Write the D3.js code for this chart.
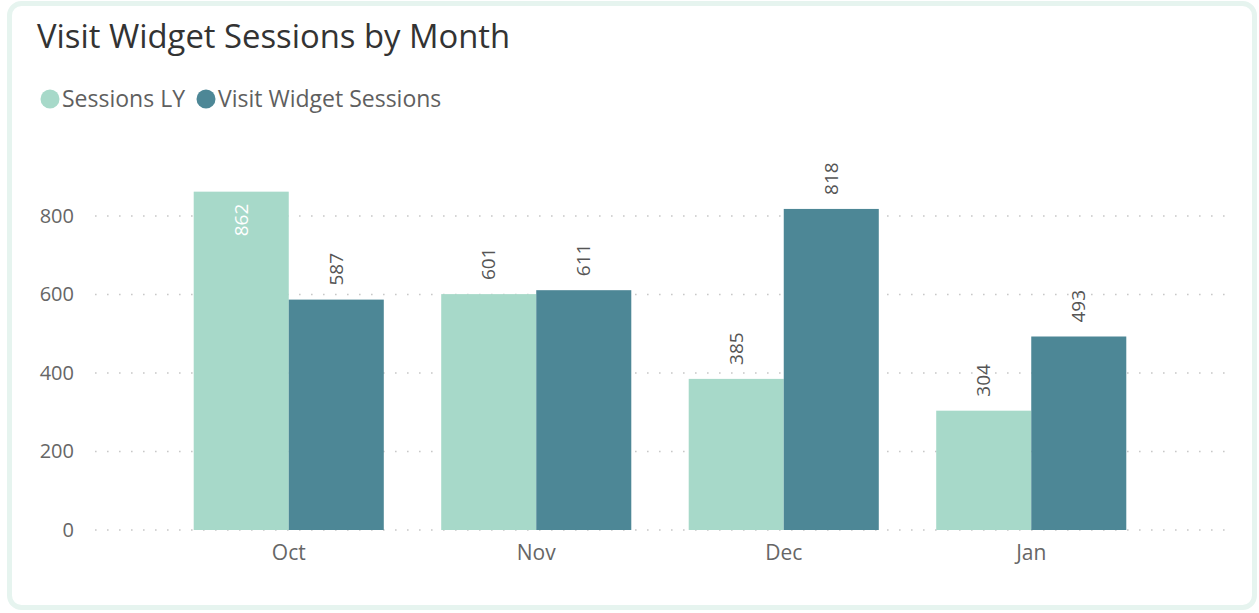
<!DOCTYPE html>
<html>
<head>
<meta charset="utf-8">
<script src="https://cdn.jsdelivr.net/npm/d3@7"></script>
<style>
  body { margin: 0; background: #fff; }
  text { font-family: "Segoe UI", "Open Sans", sans-serif; }
</style>
</head>
<body>
<svg id="chart" width="1259" height="613"></svg>
<script>
// data
var months = ["Oct", "Nov", "Dec", "Jan"];
var sessionsLY = [862, 601, 385, 304];
var widgetSessions = [587, 611, 818, 493];
var yTicks = [0, 200, 400, 600, 800];
var seriesNames = ["Sessions LY", "Visit Widget Sessions"];
var seriesColors = ["#a7d9c9", "#4d8796"];

var svg = d3.select("#chart");

// card
svg.append("rect")
  .attr("x", 9.5).attr("y", 3.5)
  .attr("width", 1245).attr("height", 604)
  .attr("rx", 12)
  .attr("fill", "#fff")
  .attr("stroke", "#e6f4ef")
  .attr("stroke-width", 5);

svg.append("text")
  .attr("x", 37).attr("y", 48)
  .attr("font-size", 32.8)
  .attr("fill", "#333")
  .text("Visit Widget Sessions by Month");

// legend
var lx = 50;
seriesNames.forEach(function (name, i) {
  svg.append("circle")
    .attr("cx", lx).attr("cy", 99).attr("r", 9.5)
    .attr("fill", seriesColors[i]);
  var t = svg.append("text")
    .attr("x", lx + 12).attr("y", 99)
    .attr("dy", "0.35em")
    .attr("font-size", 23)
    .attr("fill", "#5f5f5f")
    .text(name);
  lx += 12 + t.node().getComputedTextLength() + 21;
});

var plotTop = 150, plotLeft = 95, plotRight = 1228;

var x0 = d3.scaleBand()
  .domain(months)
  .range([165, 1155])
  .paddingInner(0.232)
  .paddingOuter(0.116);

var x1 = d3.scaleBand()
  .domain([0, 1])
  .range([0, x0.bandwidth()]);

var y = d3.scaleLinear()
  .domain([0, 800])
  .range([530, 216]);

// gridlines
var grid = svg.append("g");
yTicks.forEach(function (v) {
  grid.append("line")
    .attr("x1", plotLeft).attr("x2", plotRight)
    .attr("y1", y(v)).attr("y2", y(v))
    .attr("stroke", "#c8c8c8")
    .attr("stroke-width", 1.6)
    .attr("stroke-dasharray", "1.6,10.4");
});

// y axis
var yAxis = d3.axisLeft(y).tickValues(yTicks).tickSize(0).tickPadding(0);
svg.append("g")
  .attr("transform", "translate(74,0)")
  .call(yAxis)
  .call(function (g) {
    g.select(".domain").remove();
    g.selectAll("text")
      .attr("font-size", 20)
      .attr("fill", "#666")
      .attr("font-family", "\"Segoe UI\", \"Open Sans\", sans-serif");
  });

// x axis
var xAxis = d3.axisBottom(x0).tickSize(0).tickPadding(0);
svg.append("g")
  .attr("transform", "translate(0,545)")
  .call(xAxis)
  .call(function (g) {
    g.select(".domain").remove();
    g.selectAll("text")
      .attr("font-size", 21)
      .attr("fill", "#666")
      .attr("font-family", "\"Segoe UI\", \"Open Sans\", sans-serif");
  });

// bars
var rows = months.map(function (m, i) {
  return { month: m, values: [sessionsLY[i], widgetSessions[i]] };
});

var groups = svg.append("g").selectAll("g")
  .data(rows)
  .enter().append("g")
  .attr("transform", function (d) { return "translate(" + x0(d.month) + ",0)"; });

groups.selectAll("rect")
  .data(function (d) { return d.values.map(function (v, k) { return { k: k, v: v }; }); })
  .enter().append("rect")
  .attr("x", function (d) { return x1(d.k); })
  .attr("width", x1.bandwidth())
  .attr("y", function (d) { return y(d.v); })
  .attr("height", function (d) { return y(0) - y(d.v); })
  .attr("fill", function (d) { return seriesColors[d.k]; });

// data labels
groups.selectAll("text.lbl")
  .data(function (d) { return d.values.map(function (v, k) { return { k: k, v: v }; }); })
  .enter().append("text")
  .attr("class", "lbl")
  .attr("font-size", 19)
  .attr("dy", "0.35em")
  .text(function (d) { return d.v; })
  .each(function (d) {
    var t = d3.select(this);
    var len = this.getComputedTextLength();
    var cx = x1(d.k) + x1.bandwidth() / 2;
    var top = y(d.v);
    if (top - 14 - len < plotTop) {
      t.attr("transform", "translate(" + cx + "," + (top + 12) + ") rotate(-90)")
        .attr("text-anchor", "end")
        .attr("fill", "#fff");
    } else {
      t.attr("transform", "translate(" + cx + "," + (top - 14) + ") rotate(-90)")
        .attr("text-anchor", "start")
        .attr("fill", "#555");
    }
  });
</script>
</body>
</html>
